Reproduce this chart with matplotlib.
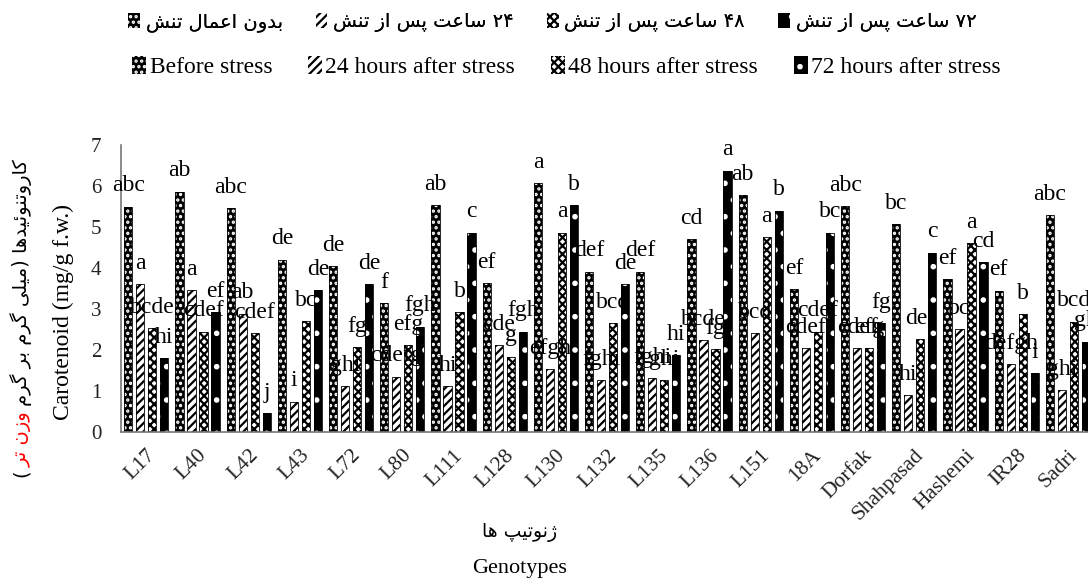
import re
import matplotlib
matplotlib.use('Agg')
import matplotlib.pyplot as plt
import numpy as np
from matplotlib.patches import Patch

plt.rcParams['font.family'] = ['Liberation Serif', 'DejaVu Sans']
plt.rcParams['hatch.linewidth'] = 1.6

genotypes = ['L17', 'L40', 'L42', 'L43', 'L72', 'L80', 'L111', 'L128', 'L130',
             'L132', 'L135', 'L136', 'L151', '18A', 'Dorfak', 'Shahpasad',
             'Hashemi', 'IR28', 'Sadri']

before = [5.50, 5.86, 5.46, 4.20, 4.05, 3.14, 5.54, 3.63, 6.07, 3.91,
          3.91, 4.70, 5.78, 3.48, 5.51, 5.07, 3.73, 3.45, 5.29]
h24 = [3.61, 3.46, 2.89, 0.74, 1.12, 1.35, 1.11, 2.12, 1.53, 1.27,
       1.31, 2.24, 2.41, 2.04, 2.04, 0.90, 2.51, 1.65, 1.02]
h48 = [2.53, 2.45, 2.41, 2.71, 2.07, 2.12, 2.93, 1.84, 4.86, 2.65,
       1.27, 2.02, 4.76, 2.45, 2.04, 2.26, 4.60, 2.88, 2.69]
h72 = [1.80, 2.93, 0.46, 3.46, 3.61, 2.57, 4.86, 2.45, 5.54, 3.61,
       1.88, 6.37, 5.40, 4.86, 2.65, 4.37, 4.15, 1.43, 2.20]

before_lbl = ['abc', 'ab', 'abc', 'de', 'de', 'f', 'ab', 'ef', 'a', 'def',
              'def', 'cd', 'ab', 'ef', 'abc', 'bc', 'ef', 'ef', 'abc']
h24_lbl = ['a', 'a', 'ab', 'i', 'ghi', 'cdefg', 'hi', 'cde', 'efgh', 'fghi',
           'fghi', 'bcde', 'bcd', 'cdef', 'cdef', 'hi', 'bc', 'defgh', 'ghi']
h48_lbl = ['bcde', 'cdef', 'cdef', 'bc', 'fg', 'efg', 'b', 'g', 'a', 'bcd',
           'ghi', 'fg', 'a', 'cdef', 'efg', 'def', 'a', 'b', 'bcd']
h72_lbl = ['hi', 'ef', 'j', 'de', 'de', 'fgh', 'c', 'fgh', 'b', 'de',
           'hi', 'a', 'b', 'bc', 'fg', 'c', 'cd', 'i', 'gh']

series_en = ['Before stress', '24 hours after stress', '48 hours after stress',
             '72 hours after stress']
series_fa = ['بدون اعمال تنش', '۲۴ ساعت پس از تنش', '۴۸ ساعت پس از تنش',
             '۷۲ ساعت پس از تنش']

# matplotlib has no arabic shaping / bidi, so do a tiny one by hand
FORMS = {
    'ب': (0xFE8F, 0xFE90, 0xFE91, 0xFE92),
    'پ': (0xFB56, 0xFB57, 0xFB58, 0xFB59),
    'ت': (0xFE95, 0xFE96, 0xFE97, 0xFE98),
    'س': (0xFEB1, 0xFEB2, 0xFEB3, 0xFEB4),
    'ش': (0xFEB5, 0xFEB6, 0xFEB7, 0xFEB8),
    'ع': (0xFEC9, 0xFECA, 0xFECB, 0xFECC),
    'ک': (0xFB8E, 0xFB8F, 0xFB90, 0xFB91),
    'گ': (0xFB92, 0xFB93, 0xFB94, 0xFB95),
    'ل': (0xFEDD, 0xFEDE, 0xFEDF, 0xFEE0),
    'م': (0xFEE1, 0xFEE2, 0xFEE3, 0xFEE4),
    'ن': (0xFEE5, 0xFEE6, 0xFEE7, 0xFEE8),
    'ه': (0xFEE9, 0xFEEA, 0xFEEB, 0xFEEC),
    'ی': (0xFBFC, 0xFBFD, 0xFBFE, 0xFBFF),
    'ئ': (0xFE89, 0xFE8A, 0xFE8B, 0xFE8C),
    'ا': (0xFE8D, 0xFE8E),
    'د': (0xFEA9, 0xFEAA),
    'ر': (0xFEAD, 0xFEAE),
    'ز': (0xFEAF, 0xFEB0),
    'ژ': (0xFB8A, 0xFB8B),
    'و': (0xFEED, 0xFEEE),
}


def fa(s):
    out = []
    for i, c in enumerate(s):
        if c not in FORMS:
            out.append(c)
            continue
        f = FORMS[c]
        prev = s[i - 1] if i > 0 else ''
        nxt = s[i + 1] if i + 1 < len(s) else ''
        jp = prev in FORMS and len(FORMS[prev]) == 4
        jn = len(f) == 4 and nxt in FORMS
        k = 3 if (jp and jn) else 1 if jp else 2 if jn else 0
        out.append(chr(f[k]))
    runs = re.findall(r'[0-9۰-۹]+|[^0-9۰-۹]', ''.join(out))
    mirror = {'(': ')', ')': '('}
    return ''.join(mirror.get(r, r) for r in reversed(runs))


values = [before, h24, h48, h72]
labels = [before_lbl, h24_lbl, h48_lbl, h72_lbl]
faces = ['black', 'white', 'white', 'black']
hcols = ['white', 'black', 'black', 'white']
hatches = ['...', '////', 'xxxx', '.']
offsets = [-0.35, -0.117, 0.117, 0.35]
width = 0.16

W, H = 1088, 583
fig = plt.figure(figsize=(W / 100, H / 100), dpi=100)
ax = fig.add_axes([120.7 / W, 151 / H, 972.8 / W, 287 / H])

x = np.arange(len(genotypes))
for v, lb, fc, hc, ht, off in zip(values, labels, faces, hcols, hatches, offsets):
    ax.bar(x + off, v, width, color=fc, edgecolor=hc, hatch=ht, linewidth=0)
    ax.bar(x + off, v, width, fill=False, edgecolor='black', linewidth=0.6)
    for xi, vi, t in zip(x + off, v, lb):
        ax.annotate(t, (xi, vi), xytext=(0, 15), textcoords='offset points',
                    ha='center', va='center', fontsize=17, color='black')

ax.set_xlim(-0.5, len(genotypes) - 0.5)
ax.set_ylim(0, 7)
ax.set_yticks(range(8))
ax.tick_params(axis='y', length=0, pad=14, labelsize=15, colors='#222222')
ax.set_xticks(x)
ax.set_xticklabels(genotypes, rotation=45, ha='right', rotation_mode='anchor')
ax.tick_params(axis='x', length=0, pad=10, labelsize=15.5, colors='#222222')
for s in ['top', 'right']:
    ax.spines[s].set_visible(False)
for s in ['left', 'bottom']:
    ax.spines[s].set_color('#777777')
    ax.spines[s].set_linewidth(1.2)

handles = [Patch(facecolor=fc, edgecolor=hc, hatch=ht, linewidth=0)
           for fc, hc, ht in zip(faces, hcols, hatches)]
leg_fa = fig.legend(handles, [fa(t) for t in series_fa], ncol=4, frameon=False,
                    loc='center left', bbox_to_anchor=(128 / W, 1 - 22 / H),
                    prop={'family': 'DejaVu Sans', 'size': 14},
                    handlelength=0.6, handleheight=0.8, handletextpad=0.3,
                    columnspacing=1.7, borderpad=0, borderaxespad=0)
fig.add_artist(leg_fa)
fig.legend(handles, series_en, ncol=4, frameon=False,
           loc='center left', bbox_to_anchor=(132 / W, 1 - 67 / H),
           prop={'family': 'Liberation Serif', 'size': 17},
           handlelength=0.6, handleheight=0.8, handletextpad=0.15,
           columnspacing=1.5, borderpad=0, borderaxespad=0)

fig.text(520 / W, 1 - 533 / H, fa('ژنوتیپ ها'), family='DejaVu Sans',
         fontsize=13.5, ha='center', va='center')
fig.text(520 / W, 1 - 568 / H, 'Genotypes', fontsize=16, ha='center', va='center')
fig.text(63 / W, 1 - 312 / H, 'Carotenoid (mg/g f.w.)', fontsize=17,
         rotation=90, ha='center', va='center')

# persian y label, the "wet weight" part is red
parts = [(fa(')'), 'black'), (fa('وزن تر'), 'red'),
         (fa('کاروتنوئیدها (میلی گرم بر گرم'), 'black')]
fig.canvas.draw()
r = fig.canvas.get_renderer()
txts = []
for s, c in parts:
    t = fig.text(27 / W, 0, s, family='DejaVu Sans', fontsize=14, color=c,
                 rotation=90, rotation_mode='anchor', ha='left', va='baseline')
    txts.append(t)
lens = [t.get_window_extent(r).height for t in txts]
gaps = [2, 5, 0]
total = sum(lens) + sum(gaps)
y0 = (H - 318) - total / 2
for t, L, g in zip(txts, lens, gaps):
    t.set_y(y0 / H)
    y0 += L + g

fig.savefig('out.png', dpi=100)
